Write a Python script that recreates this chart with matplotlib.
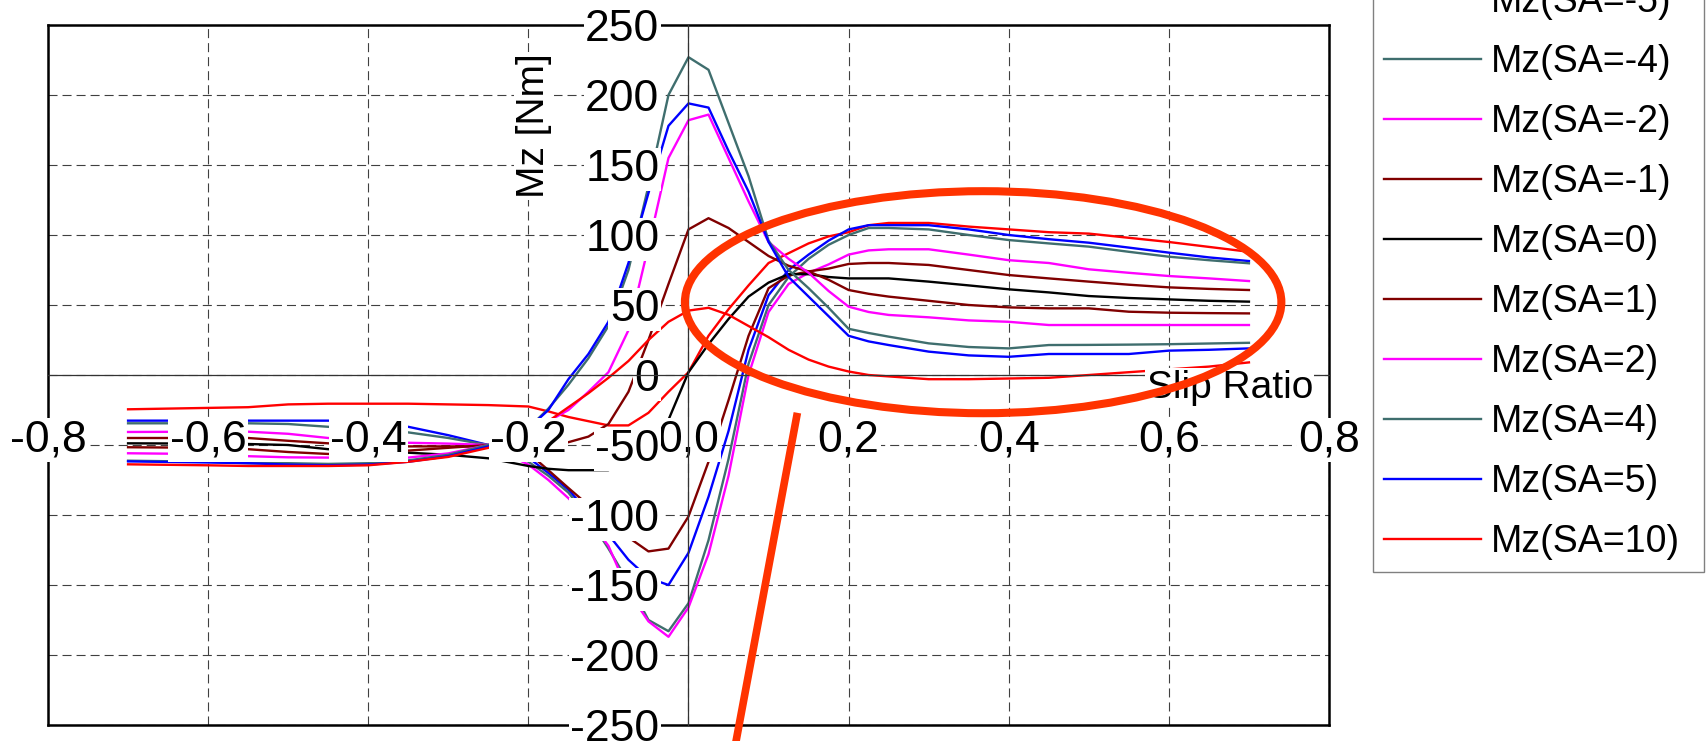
import matplotlib
matplotlib.use('Agg')
import matplotlib.pyplot as plt
from matplotlib.patches import Ellipse
from matplotlib.lines import Line2D

plt.rcParams['font.family'] = ['Liberation Sans', 'DejaVu Sans']
plt.rcParams['lines.scale_dashes'] = False

# ---------------- data ----------------
slip = [-0.70, -0.60, -0.55, -0.50, -0.45, -0.40, -0.35, -0.30, -0.25, -0.20,
        -0.175, -0.15, -0.125, -0.10, -0.075, -0.05, -0.025, 0.0,
        0.025, 0.05, 0.075, 0.10, 0.125, 0.15, 0.175, 0.20,
        0.225, 0.25, 0.30, 0.35, 0.40, 0.45, 0.50, 0.55, 0.60, 0.65, 0.70]

mz_sa_m10 = [-24.5, -23.5, -23, -21, -20.5, -20.5, -20.5, -21, -21.5, -22.5,
             -26, -30, -33, -36, -36, -27, -12, 2,
             28, 47, 64, 80, 87, 94, 99, 102,
             107, 108.6, 108.6, 106, 104, 102, 101, 98, 95, 91.5, 88]
mz_sa_m5 = [-32.6, -32.6, -32.6, -32.6, -32.6, -34, -37, -43, -50, -59,
            -70, -82, -98, -114, -132, -145, -150, -127,
            -87, -40, 18, 57, 75, 86, 96, 104,
            107, 107, 107, 104, 100, 97, 94.5, 91, 87.4, 84, 81.4]
mz_sa_m4 = [-34.5, -34.5, -34.5, -35, -37, -38.5, -41, -45, -50, -62,
            -72, -84, -102, -124, -148, -175, -183, -163,
            -118, -60, 8, 50, 70, 83, 93, 100,
            105, 105, 104, 100, 96.4, 94, 91.7, 88, 84.5, 82, 79.8]
mz_sa_m2 = [-40.7, -40.5, -40.5, -42, -45, -46, -48.4, -49, -50, -64,
            -75, -88, -103, -122, -155, -176, -187, -166,
            -128, -72, 0, 45, 65, 73, 79, 86,
            89, 89.8, 89.8, 86, 82, 80, 75.5, 73, 70.7, 69, 67.1]
mz_sa_m1 = [-45, -45, -45, -47, -48.8, -50, -51, -51, -51, -55.7,
            -68, -80.7, -93, -106, -116, -126, -124, -101,
            -62, -18, 28, 62, 71, 74, 76, 79.3,
            80, 80, 78.6, 75, 71.4, 69, 66.7, 64.5, 62.6, 61.5, 60.7]
mz_sa_0 = [-48.8, -49, -49.3, -50, -53, -54, -55.5, -57, -59.5, -65,
           -67, -68, -68, -68, -55, -45, -32, 2,
           22, 40, 56, 66, 72, 72, 70, 69,
           69, 69, 66.7, 64, 61.2, 59, 56.4, 55, 54, 53, 52.4]
mz_sa_1 = [-51.6, -52, -53, -55, -56.4, -56, -54, -52, -50, -49,
           -50, -48, -44, -35, -12, 25, 65, 104,
           112, 105, 95, 85, 78, 74, 68, 60.7,
           58, 56, 53, 50, 48.3, 47.6, 47.6, 45.2, 44.5, 44.2, 44]
mz_sa_2 = [-55.9, -56.5, -58, -58.8, -59, -59.5, -59, -56, -50, -40,
           -33, -25, -12, 2, 32, 92, 155, 182,
           186, 155, 124, 95, 83, 73, 60, 48.8,
           45, 42.9, 41.2, 39, 38, 35.7, 35.7, 35.7, 35.7, 35.7, 35.7]
mz_sa_4 = [-61.2, -62, -63, -63, -63.5, -63, -61, -57, -50, -38,
           -24, -7, 12, 35, 75, 135, 200, 227,
           218, 180, 142, 96, 75, 62, 48, 33,
           30, 27.4, 22.6, 20, 19, 21.4, 21.5, 21.7, 22, 22.5, 23]
mz_sa_5 = [-61.7, -62.5, -63, -64, -64.5, -64, -62, -58, -51, -38,
           -25, -3, 15, 38, 80, 130, 178, 194,
           191, 160, 131, 95, 70, 56, 42, 28,
           24, 21.4, 16.7, 14, 13, 15, 15, 15, 17.4, 18, 19]
mz_sa_10 = [-63.8, -64.5, -65, -65, -65, -64.5, -62, -58.5, -52, -40,
            -33, -23, -13, -2, 10, 25, 38, 46,
            48, 43, 35, 27, 18, 11, 6, 2.5,
            0, -1, -3, -3, -2.5, -2, 0, 2, 4, 6, 9]

series = [mz_sa_m10, mz_sa_m5, mz_sa_m4, mz_sa_m2, mz_sa_m1, mz_sa_0,
          mz_sa_1, mz_sa_2, mz_sa_4, mz_sa_5, mz_sa_10]
series_labels = ['Mz(SA=-10)', 'Mz(SA=-5)', 'Mz(SA=-4)', 'Mz(SA=-2)', 'Mz(SA=-1)',
                 'Mz(SA=0)', 'Mz(SA=1)', 'Mz(SA=2)', 'Mz(SA=4)', 'Mz(SA=5)',
                 'Mz(SA=10)']
series_colors = ['#FF0000', '#0000FF', '#3F6E6E', '#FF00FF', '#800000', '#000000',
                 '#800000', '#FF00FF', '#3F6E6E', '#0000FF', '#FF0000']

x_ticks = [-0.8, -0.6, -0.4, -0.2, 0.0, 0.2, 0.4, 0.6, 0.8]
x_tick_labels = ['-0,8', '-0,6', '-0,4', '-0,2', '0,0', '0,2', '0,4', '0,6', '0,8']
y_ticks = [-250, -200, -150, -100, -50, 0, 50, 100, 150, 200, 250]
y_tick_labels = [str(v) for v in y_ticks]

# ---------------- figure ----------------
W, H = 1708, 741
fig = plt.figure(figsize=(W / 100, H / 100), dpi=100)
rect = [48 / W, (H - 725) / H, (1329 - 48) / W, (725 - 25) / H]

ax = fig.add_axes(rect)
ax.set_xlim(-0.8, 0.8)
ax.set_ylim(-250, 250)
ax.set_xticks(x_ticks)
ax.set_yticks(y_ticks)
ax.tick_params(labelbottom=False, labelleft=False, length=0)
ax.set_axisbelow(True)
ax.grid(True, linestyle=(0, (6.5, 3.6)), color='#404040', linewidth=0.8)
for s in ax.spines.values():
    s.set_linewidth(1.8)
    s.set_color('black')

for ys, c, lab in zip(series, series_colors, series_labels):
    ax.plot(slip, ys, color=c, linewidth=1.7, label=lab)

# overlay axes for centred axis lines and boxed tick labels
ax2 = fig.add_axes(rect)
ax2.set_xlim(-0.8, 0.8)
ax2.set_ylim(-250, 250)
ax2.patch.set_visible(False)
ax2.spines['left'].set_position(('data', 0))
ax2.spines['bottom'].set_position(('data', 0))
ax2.spines['top'].set_visible(False)
ax2.spines['right'].set_visible(False)
for k in ('left', 'bottom'):
    ax2.spines[k].set_linewidth(0.9)
    ax2.spines[k].set_color('#333333')
ax2.set_xticks(x_ticks, x_tick_labels)
ax2.set_yticks(y_ticks, y_tick_labels)
ax2.tick_params(length=0, labelsize=32)
ax2.tick_params(axis='x', pad=32)
ax2.tick_params(axis='y', pad=21)
for lbl in ax2.get_xticklabels() + ax2.get_yticklabels():
    lbl.set_bbox(dict(facecolor='white', edgecolor='none', pad=1))

ax2.text(-0.193, 178, 'Mz [Nm]', rotation=90, ha='center', va='center',
         fontsize=28, bbox=dict(facecolor='white', edgecolor='none', pad=1))
ax2.text(0.676, -9, 'Slip Ratio', ha='center', va='center', fontsize=28,
         bbox=dict(facecolor='white', edgecolor='none', pad=1), zorder=5)

# annotation: ellipse and pointer line
ann_color = '#FF3300'
ax2.add_patch(Ellipse((0.368, 52), width=0.745, height=158.6, fill=False,
                      edgecolor=ann_color, linewidth=5.8, zorder=10))
ax2.add_line(Line2D([0.136, 0.055], [-27, -275], color=ann_color, linewidth=5.5,
                    solid_capstyle='butt', clip_on=False, zorder=10))

# legend (top entries run off the figure, as in the reference)
handles = ax.get_lines()
fig.legend(handles, series_labels, loc='lower left',
           bbox_to_anchor=(1372.7 / W, (H - 571.7) / H), borderaxespad=0,
           fontsize=27, frameon=True, fancybox=False, edgecolor='#808080',
           framealpha=1, handlelength=2.59, handletextpad=0.24,
           labelspacing=0.64, borderpad=0.31)

fig.savefig('out.png', dpi=100)
